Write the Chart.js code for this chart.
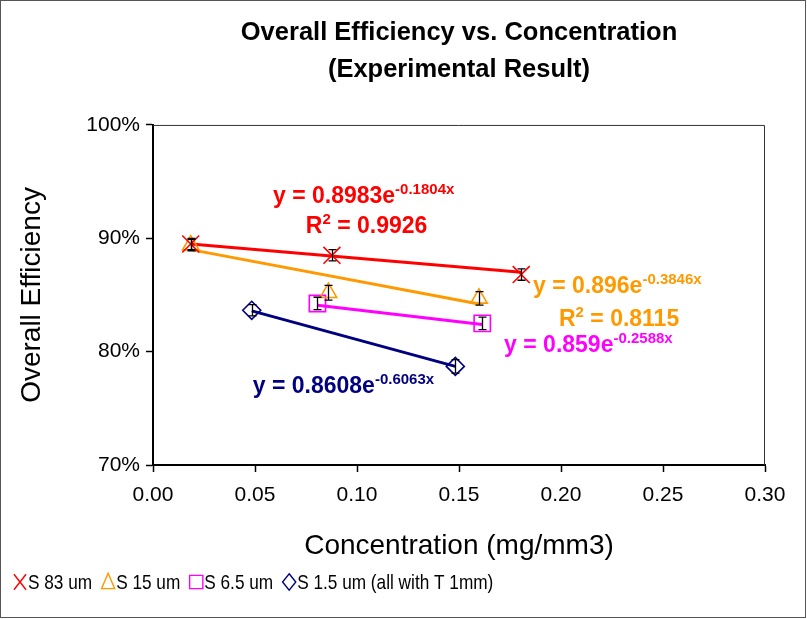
<!DOCTYPE html>
<html>
<head>
<meta charset="utf-8">
<script src="https://cdn.jsdelivr.net/npm/chart.js@4.4.0/dist/chart.umd.min.js"></script>
<style>
  html, body { margin: 0; padding: 0; background: #fff; }
  canvas { display: block; }
</style>
</head>
<body>
<canvas id="chart" width="807" height="619"></canvas>
<script>
// --- data (efficiency in %) ---
const s83X = [0.0185, 0.0877, 0.1805];
const s83Y = [89.5, 88.5, 86.8];
const s83Err = [0.5, 0.5, 0.5];

const s15X = [0.0185, 0.0860, 0.1598];
const s15Y = [89.4, 85.2, 84.7];
const s15Err = [0.5, 0.65, 0.6];

const s65X = [0.0806, 0.1614];
const s65Y = [84.25, 82.5];
const s65Err = [0.55, 0.55];

const s1X = [0.0484, 0.1482];
const s1Y = [83.65, 78.7];
const s1Err = [0.5, 0.6];

// exponential trend lines, end points
const trend83X = [0.0185, 0.1805];
const trend83Y = [89.5, 87.0];
const trend15X = [0.0185, 0.1598];
const trend15Y = [89.0, 84.2];
const trend65X = [0.0806, 0.1614];
const trend65Y = [84.1, 82.4];
const trend1X = [0.0484, 0.1482];
const trend1Y = [83.6, 78.7];

const xTicks = [0, 0.05, 0.10, 0.15, 0.20, 0.25, 0.30];
const yTicks = [70, 80, 90, 100];

const seriesNames = ['S 83 um', 'S 15 um', 'S 6.5 um', 'S 1.5 um (all with T 1mm)'];
const seriesColors = ['#FF0000', '#FF9900', '#FF00FF', '#000080'];
const seriesStyles = ['crossRot', 'triangle', 'rect', 'rectRot'];

// trend line equation labels (anchored in data units)
const eqMain = ['y = 0.8983e', 'R', 'y = 0.896e', 'R', 'y = 0.859e', 'y = 0.8608e'];
const eqSup = ['-0.1804x', '2', '-0.3846x', '2', '-0.2588x', '-0.6063x'];
const eqTail = ['', ' = 0.9926', '', ' = 0.8115', '', ''];
const eqX = [0.0588, 0.0749, 0.1863, 0.1990, 0.1721, 0.0489];
const eqY = [93.1, 90.45, 85.15, 82.3, 80.0, 76.35];
const eqColor = ['#FF0000', '#FF0000', '#FF9900', '#FF9900', '#FF00FF', '#000080'];

const FONT = 'Liberation Sans, Arial, sans-serif';

const pts = (xs, ys) => xs.map((x, i) => ({ x, y: ys[i] }));

function scatterSet(idx, xs, ys, errs, radius) {
  return {
    label: seriesNames[idx],
    data: pts(xs, ys),
    errors: errs,
    showLine: false,
    pointStyle: seriesStyles[idx],
    pointRadius: radius,
    pointBorderColor: seriesColors[idx],
    pointBackgroundColor: 'rgba(0,0,0,0)',
    pointBorderWidth: 1.6,
    borderColor: seriesColors[idx],
  };
}

function trendSet(idx, xs, ys) {
  return {
    label: seriesNames[idx] + ' trend',
    data: pts(xs, ys),
    showLine: true,
    borderColor: seriesColors[idx],
    borderWidth: 3,
    pointRadius: 0,
    fill: false,
  };
}

// hand drawn marker for the custom legend
function drawMarker(ctx, style, cx, cy, r, color) {
  ctx.save();
  ctx.strokeStyle = color;
  ctx.lineWidth = 1.4;
  ctx.beginPath();
  if (style === 'crossRot') {
    ctx.moveTo(cx - r * 0.55, cy - r * 0.7);
    ctx.lineTo(cx + r * 0.55, cy + r * 0.7);
    ctx.moveTo(cx + r * 0.55, cy - r * 0.7);
    ctx.lineTo(cx - r * 0.55, cy + r * 0.7);
  } else if (style === 'triangle') {
    ctx.moveTo(cx, cy - r * 0.8);
    ctx.lineTo(cx + r * 0.6, cy + r * 0.6);
    ctx.lineTo(cx - r * 0.6, cy + r * 0.6);
    ctx.closePath();
  } else if (style === 'rect') {
    ctx.rect(cx - r * 0.6, cy - r * 0.6, r * 1.2, r * 1.2);
  } else {
    ctx.moveTo(cx, cy - r * 0.75);
    ctx.lineTo(cx + r * 0.6, cy);
    ctx.lineTo(cx, cy + r * 0.75);
    ctx.lineTo(cx - r * 0.6, cy);
    ctx.closePath();
  }
  ctx.stroke();
  ctx.restore();
}

const decorPlugin = {
  id: 'decor',
  beforeDraw(chart) {
    const { ctx, width, height } = chart;
    ctx.save();
    ctx.fillStyle = '#fff';
    ctx.fillRect(0, 0, width, height);
    ctx.restore();
  },
  beforeDatasetsDraw(chart) {
    // thin frame on top and right of the plot area
    const { ctx, chartArea: a } = chart;
    ctx.save();
    ctx.strokeStyle = '#333';
    ctx.lineWidth = 1;
    ctx.beginPath();
    ctx.moveTo(a.left, a.top + 0.5);
    ctx.lineTo(a.right - 0.5, a.top + 0.5);
    ctx.lineTo(a.right - 0.5, a.bottom);
    ctx.stroke();
    ctx.restore();
  },
  afterDatasetsDraw(chart) {
    const { ctx } = chart;
    const xs = chart.scales.x, ys = chart.scales.y;

    // error bars
    ctx.save();
    ctx.strokeStyle = '#000';
    ctx.lineWidth = 1.3;
    chart.data.datasets.forEach((ds) => {
      if (!ds.errors) return;
      ds.data.forEach((p, j) => {
        const e = ds.errors[j];
        const px = Math.round(xs.getPixelForValue(p.x)) + 0.5;
        const top = ys.getPixelForValue(p.y + e);
        const bot = ys.getPixelForValue(p.y - e);
        ctx.beginPath();
        ctx.moveTo(px, top); ctx.lineTo(px, bot);
        ctx.moveTo(px - 4, top); ctx.lineTo(px + 4, top);
        ctx.moveTo(px - 4, bot); ctx.lineTo(px + 4, bot);
        ctx.stroke();
      });
    });
    ctx.restore();

    // equation labels
    ctx.save();
    ctx.textBaseline = 'alphabetic';
    ctx.textAlign = 'left';
    eqMain.forEach((txt, k) => {
      let x = xs.getPixelForValue(eqX[k]);
      const y = ys.getPixelForValue(eqY[k]);
      ctx.fillStyle = eqColor[k];
      ctx.font = 'bold 23px ' + FONT;
      ctx.fillText(txt, x, y);
      x += ctx.measureText(txt).width;
      ctx.font = 'bold 15px ' + FONT;
      ctx.fillText(eqSup[k], x, y - 9);
      x += ctx.measureText(eqSup[k]).width;
      if (eqTail[k]) {
        ctx.font = 'bold 23px ' + FONT;
        ctx.fillText(eqTail[k], x, y);
      }
    });
    ctx.restore();
  },
  afterDraw(chart) {
    const { ctx, width, height } = chart;
    // custom legend, condensed text like the original
    ctx.save();
    ctx.font = '21px ' + FONT;
    ctx.textBaseline = 'middle';
    ctx.fillStyle = '#000';
    const cy = 582;
    let x = 13;
    seriesNames.forEach((name, i) => {
      const cx = x + 7;
      drawMarker(ctx, seriesStyles[i], cx, cy, 11, seriesColors[i]);
      const tx = cx + 8;
      const w = ctx.measureText(name).width * 0.82;
      ctx.save();
      ctx.translate(tx, cy);
      ctx.scale(0.82, 1);
      ctx.fillText(name, 0, 1);
      ctx.restore();
      x = tx + w + 9;
    });
    ctx.restore();

    // outer frame
    ctx.save();
    ctx.strokeStyle = '#555';
    ctx.lineWidth = 1;
    ctx.strokeRect(0.5, 0.5, width - 2, height - 2);
    ctx.restore();
  }
};

const ctx = document.getElementById('chart').getContext('2d');
new Chart(ctx, {
  type: 'scatter',
  data: {
    datasets: [
      scatterSet(0, s83X, s83Y, s83Err, 12),
      scatterSet(1, s15X, s15Y, s15Err, 9.5),
      scatterSet(2, s65X, s65Y, s65Err, 11.5),
      scatterSet(3, s1X, s1Y, s1Err, 9),
      trendSet(0, trend83X, trend83Y),
      trendSet(1, trend15X, trend15Y),
      trendSet(2, trend65X, trend65Y),
      trendSet(3, trend1X, trend1Y),
    ],
  },
  options: {
    responsive: false,
    animation: false,
    layout: { padding: { left: 0, right: 42, top: 0, bottom: 58.5 } },
    plugins: {
      legend: { display: false },
      tooltip: { enabled: false },
      title: {
        display: true,
        fullSize: false,
        text: ['Overall Efficiency vs. Concentration', '(Experimental Result)'],
        color: '#000',
        font: { family: FONT, size: 25.5, weight: 'bold', lineHeight: 1.44 },
        padding: { top: 15, bottom: 36.5 },
      },
    },
    scales: {
      x: {
        type: 'linear',
        min: xTicks[0],
        max: xTicks[xTicks.length - 1],
        afterBuildTicks: (s) => { s.ticks = xTicks.map((v) => ({ value: v })); },
        ticks: {
          color: '#000',
          padding: 11,
          font: { family: FONT, size: 21 },
          callback: (v) => Number(v).toFixed(2),
        },
        grid: { drawOnChartArea: false, tickLength: 7, tickColor: '#000', tickWidth: 1.5 },
        border: { color: '#000', width: 2 },
        title: {
          display: true,
          text: 'Concentration (mg/mm3)',
          color: '#000',
          font: { family: FONT, size: 28, lineHeight: 1 },
          padding: { top: 12.8, bottom: 0.5 },
        },
      },
      y: {
        type: 'linear',
        min: yTicks[0],
        max: yTicks[yTicks.length - 1],
        afterBuildTicks: (s) => { s.ticks = yTicks.map((v) => ({ value: v })); },
        ticks: {
          color: '#000',
          padding: 6,
          font: { family: FONT, size: 21 },
          callback: (v) => v + '%',
        },
        grid: { drawOnChartArea: false, tickLength: 7, tickColor: '#000', tickWidth: 1.5 },
        border: { color: '#000', width: 2 },
        title: {
          display: true,
          text: 'Overall Efficiency',
          color: '#000',
          font: { family: FONT, size: 28, lineHeight: 1 },
          padding: { top: 18.5, bottom: 33.8 },
        },
      },
    },
  },
  plugins: [decorPlugin],
});
</script>
</body>
</html>
